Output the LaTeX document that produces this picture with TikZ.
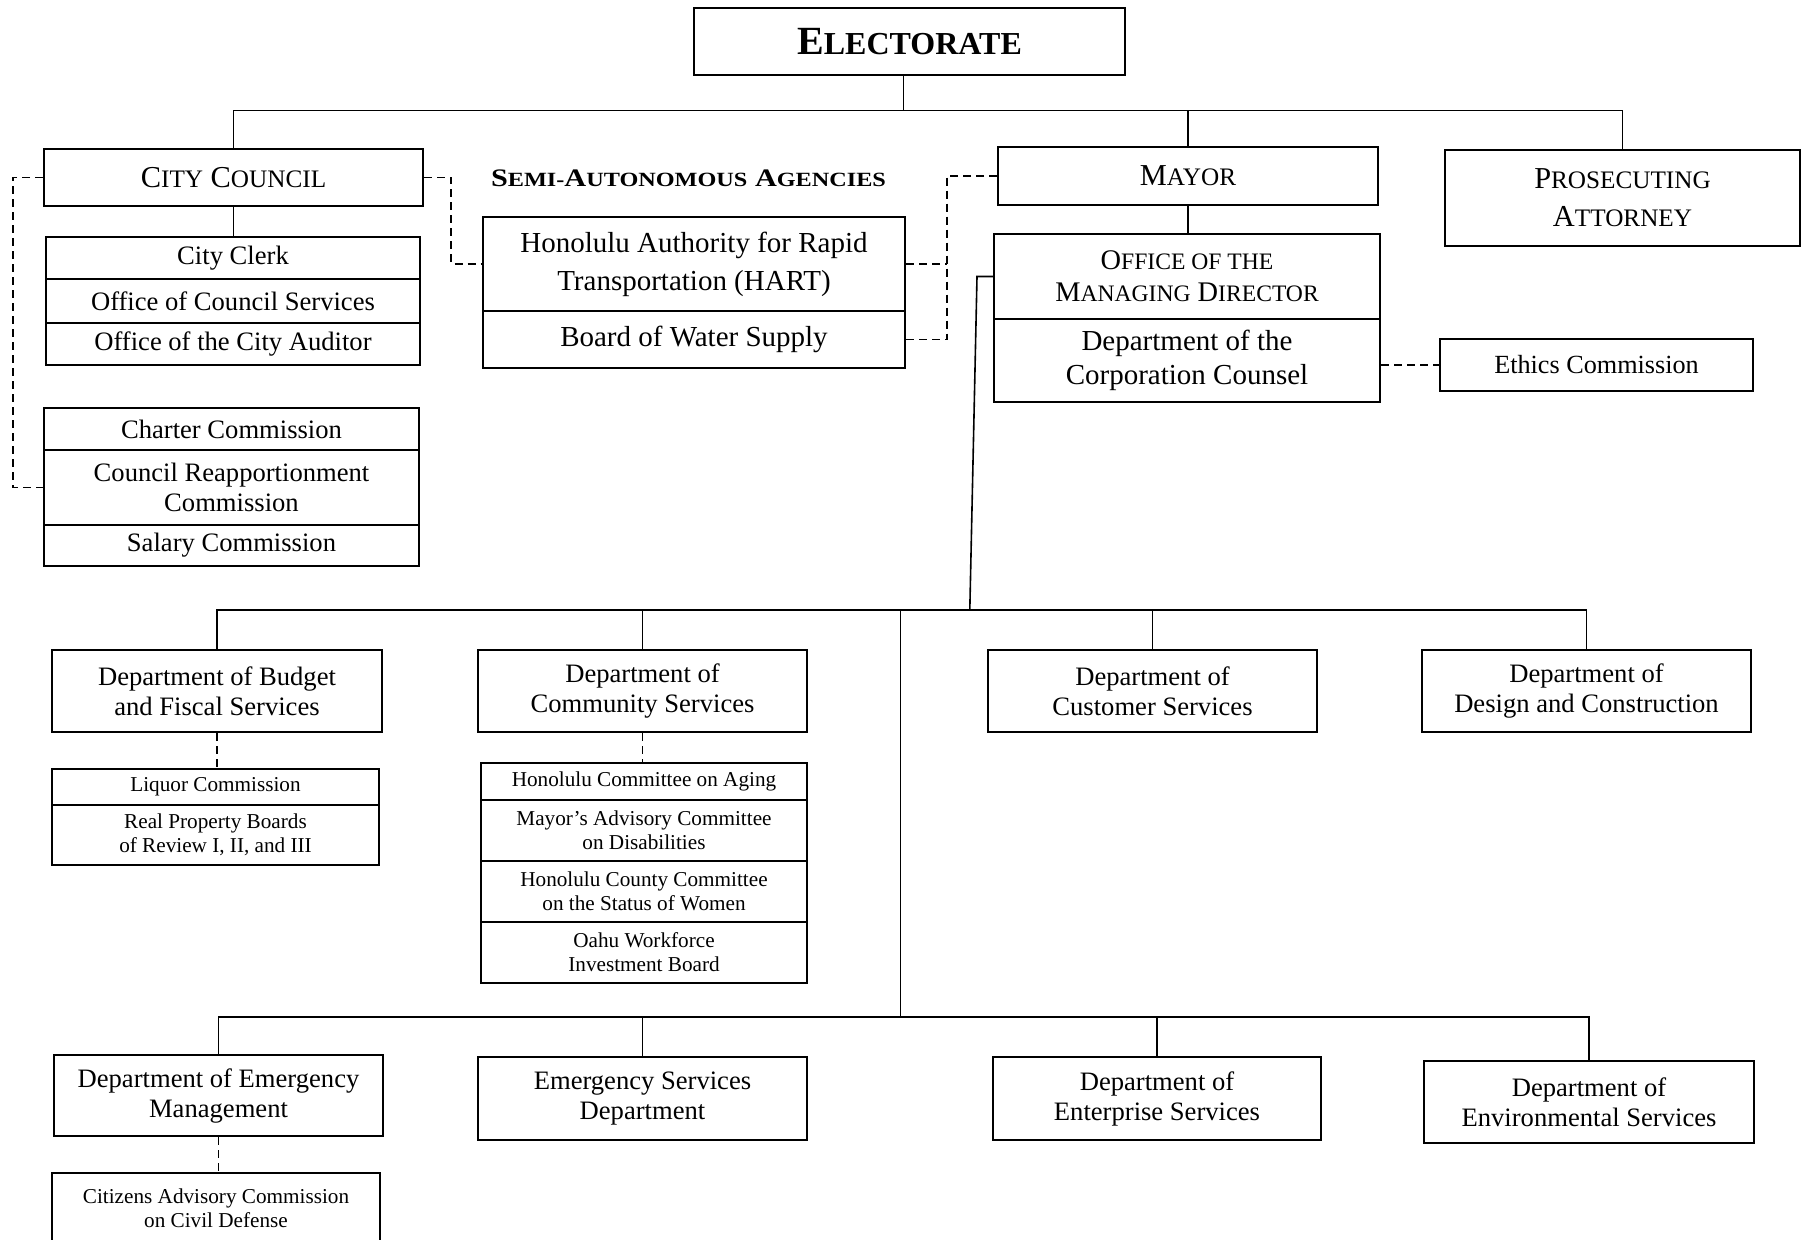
\documentclass[tikz,border=0pt]{standalone}
\usepackage{fontspec}
\setmainfont{Liberation Serif}
\newcommand\fdept{\fontsize{13.3pt}{15pt}\selectfont}
\newcommand\fmed{\fontsize{14.5pt}{19pt}\selectfont}
\newcommand\fsm{\fontsize{10.6pt}{12pt}\selectfont}
\newcommand\hd{\fontsize{15.2pt}{19pt}\selectfont}
\newcommand\hs[1]{{\fontsize{12.6pt}{19pt}\selectfont #1}}
\newcommand\od{\fontsize{14.2pt}{16pt}\selectfont}
\newcommand\os[1]{{\fontsize{11.8pt}{16pt}\selectfont #1}}
\begin{document}
\begin{tikzpicture}[x=0.5pt,y=-0.5pt,
  box/.style={draw, line width=1pt, rectangle, inner sep=0pt, align=center, anchor=north west, font=\fdept},
  sz/.style 2 args={minimum width=#1*0.5pt, minimum height=#2*0.5pt},
  conn/.style={line width=0.8pt},
  dsh/.style={line width=0.8pt, dash pattern=on 4pt off 2.5pt}]
\fill[white] (0,0) rectangle (1808,1240);
\useasboundingbox (0,0) rectangle (1808,1240);

% top level
\node[box, sz={431}{67}] (elec) at (693,7) {\fontsize{20pt}{22pt}\selectfont\bfseries E{\fontsize{16pt}{22pt}\selectfont LECTORATE}};
\node[box, sz={379}{57}, font=\hd] (cc) at (43,148) {C\hs{ITY} C\hs{OUNCIL}};
\node[box, sz={380}{58}, font=\hd] (mayor) at (997,146) {M\hs{AYOR}};
\node[box, sz={355}{96}, font=\hd] (pros) at (1444,149) {P\hs{ROSECUTING}\\A\hs{TTORNEY}};

% council units
\node[box, sz={374}{42}] (clerk1) at (45,236) {City Clerk};
\node[box, sz={374}{44}] (clerk2) at (45,278) {Office of Council Services};
\node[box, sz={374}{42}] (clerk3) at (45,322) {Office of the City Auditor};
\node[box, sz={375}{42}] (chc) at (43,407) {Charter Commission};
\node[box, sz={375}{75}] (crc) at (43,449) {Council Reapportionment\\Commission};
\node[box, sz={375}{41}] (sal) at (43,524) {Salary Commission};

% semi-autonomous
\node[anchor=base, inner sep=0pt] (semi) at (688.5,186.7) {\scalebox{1.2}[1]{\fontsize{12.6pt}{14pt}\selectfont\bfseries S{\fontsize{10.1pt}{14pt}\selectfont EMI-}A{\fontsize{10.1pt}{14pt}\selectfont UTONOMOUS} A{\fontsize{10.1pt}{14pt}\selectfont GENCIES}}};
\node[box, sz={422}{94}, font=\fmed] (hart) at (482,216) {Honolulu Authority for Rapid\\Transportation (HART)};
\node[box, sz={422}{57}, font=\fmed] (bws) at (482,310) {Board of Water Supply};

% mayor units
\node[box, sz={386}{85}, font=\od] (omd) at (993,233) {O\os{FFICE OF THE}\\M\os{ANAGING} D\os{IRECTOR}};
\node[box, sz={386}{83}, font=\fontsize{14.5pt}{16.7pt}\selectfont] (corp) at (993,318) {Department of the\\Corporation Counsel};
\node[box, sz={313}{52}, font=\fontsize{13.1pt}{15pt}\selectfont] (ethics) at (1439,338) {Ethics Commission};

% row 1
\node[box, sz={330}{82}] (budget) at (51,649) {Department of Budget\\and Fiscal Services};
\node[box, sz={329}{82}] (comm) at (477,649) {Department of\\Community Services};
\node[box, sz={329}{82}] (cust) at (987,649) {Department of\\Customer Services};
\node[box, sz={329}{82}] (design) at (1421,649) {Department of\\Design and Construction};

\node[box, sz={327}{36}, font=\fsm] (liq) at (51,768) {Liquor Commission};
\node[box, sz={327}{60}, font=\fsm] (rp) at (51,804) {Real Property Boards\\of Review I, II, and III};

\node[box, sz={326}{37}, font=\fsm] (aging) at (480,762) {Honolulu Committee on Aging};
\node[box, sz={326}{61}, font=\fsm] (madc) at (480,799) {Mayor's Advisory Committee\\on Disabilities};
\node[box, sz={326}{61}, font=\fsm] (women) at (480,860) {Honolulu County Committee\\on the Status of Women};
\node[box, sz={326}{61}, font=\fsm] (oahu) at (480,921) {Oahu Workforce\\Investment Board};

% row 2
\node[box, sz={329}{81}] (em) at (53,1054) {Department of Emergency\\Management};
\node[box, sz={329}{83}] (esd) at (477,1056) {Emergency Services\\Department};
\node[box, sz={328}{83}] (ent) at (992,1056) {Department of\\Enterprise Services};
\node[box, sz={330}{82}] (env) at (1423,1060) {Department of\\Environmental Services};
\node[box, sz={328}{70}, font=\fsm] (cit) at (51,1172) {Citizens Advisory Commission\\on Civil Defense};

% connectors top
\coordinate (b0) at (0,110.7);
\draw[conn] ([xshift=-3pt]elec.south) -- ([xshift=-3pt]elec.south |- b0);
\draw[conn] (cc.north) -- (cc.north |- b0) -- (pros.north |- b0) -- (pros.north);
\draw[conn] (mayor.north) -- (mayor.north |- b0);
\draw[conn] (cc.south) -- (cc.south |- clerk1.north);
\draw[conn] (mayor.south) -- (mayor.south |- omd.north);

% dashed links
\draw[dsh] (cc.west) -- ++(-30.3,0) |- (crc.west);
\draw[dsh] (cc.east) -- ++(27,0) |- (hart.west);
\coordinate (sv) at (946.7,0);
\draw[dsh] (mayor.west) -- (mayor.west -| sv) -- (bws.east -| sv) -- (bws.east);
\draw[dsh] (hart.east) -- (hart.east -| sv);
\draw[dsh] (corp.east |- ethics.west) -- (ethics.west);

% departments tree
\coordinate (b1) at (0,610);
\coordinate (b2) at (0,1017);
\coordinate (j1) at (969.8,610);
\coordinate (mid) at (900.6,610);
\draw[conn] (omd.west) -- ++(-16,0) -- (j1);
\draw[conn] (budget.north) -- (budget.north |- b1) -- (design.north |- b1) -- (design.north);
\draw[conn] (comm.north) -- (comm.north |- b1);
\draw[conn] (cust.north) -- (cust.north |- b1);
\draw[conn] (mid) -- (mid |- b2);
\draw[conn] (em.north) -- (em.north |- b2) -- (env.north |- b2) -- (env.north);
\draw[conn] (esd.north) -- (esd.north |- b2);
\draw[conn] (ent.north) -- (ent.north |- b2);

\draw[dsh] (budget.south) -- (budget.south |- liq.north);
\draw[dsh] (comm.south) -- (comm.south |- aging.north);
\draw[dsh] (em.south) -- (em.south |- cit.north);
\end{tikzpicture}
\end{document}
